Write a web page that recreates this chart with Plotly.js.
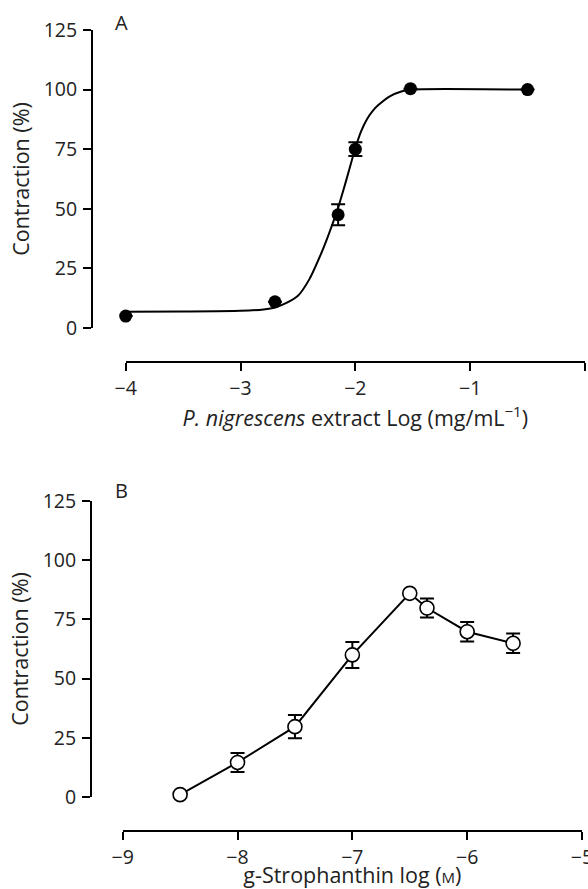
<!DOCTYPE html>
<html>
<head>
<meta charset="utf-8">
<script src="https://cdn.plot.ly/plotly-3.0.1.min.js"></script>
<style>
  html, body { margin: 0; padding: 0; background: #fff; }
  #chart { width: 588px; height: 889px; }
</style>
</head>
<body>
<div id="chart"></div>
<script>
// ---- Panel A: P. nigrescens extract ----
const aLogConc = [-4, -2.7, -2.15, -2.0, -1.52, -0.5];
const aContraction = [5, 11, 47.5, 75, 100.4, 100];
const aError = [0, 0, 4.4, 2.9, 0, 0];
// fitted curve
const aCurveX = [-4, -3.5, -3, -2.8, -2.7, -2.6, -2.5, -2.4, -2.3, -2.25, -2.2, -2.15, -2.1, -2.05, -2.0, -1.95, -1.9, -1.85, -1.8, -1.7, -1.6, -1.52, -0.5];
const aCurveY = [6.8, 6.9, 7.2, 7.8, 8.6, 10.5, 13.5, 20.5, 31, 37, 43.5, 50.5, 58.5, 67, 75.5, 82.5, 87.5, 91, 93.5, 97.2, 99.2, 100, 100];

// ---- Panel B: g-Strophanthin ----
const bLogConc = [-8.5, -8, -7.5, -7, -6.5, -6.35, -6, -5.6];
const bContraction = [1, 14.6, 29.7, 60, 86, 79.8, 69.8, 64.9];
const bError = [0, 4, 4.9, 5.5, 0, 4, 4.1, 4.1];

const yTicks = [0, 25, 50, 75, 100, 125];
const aXTicks = [-4, -3, -2, -1];
const aXEndTick = [0];
const bXTicks = [-9, -8, -7, -6, -5];

const W = 588, H = 889;
const px = v => v / W;
const py = v => 1 - v / H;

const FONT = "Open Sans, Noto Sans, sans-serif";
const tickFont = {family: FONT, size: 19.5, color: '#222'};
const titleFont = {family: FONT, size: 21.5, color: '#222'};

const traces = [
  {x: aCurveX, y: aCurveY, mode: 'lines', line: {color: '#000', width: 2, shape: 'spline', smoothing: 0.7},
   xaxis: 'x', yaxis: 'y', hoverinfo: 'skip', cliponaxis: false},
  {x: aLogConc, y: aContraction, mode: 'markers',
   marker: {color: '#000', size: 13, line: {width: 0}},
   error_y: {type: 'data', array: aError, visible: true, color: '#000', thickness: 2, width: 7},
   xaxis: 'x', yaxis: 'y', cliponaxis: false},
  {x: bLogConc, y: bContraction, mode: 'lines+markers',
   line: {color: '#000', width: 2},
   marker: {color: '#fff', size: 14, line: {color: '#000', width: 1.6}},
   error_y: {type: 'data', array: bError, visible: true, color: '#000', thickness: 2, width: 7},
   xaxis: 'x2', yaxis: 'y2', cliponaxis: false}
];

function yAxis(top, bottom, xpos) {
  return {
    domain: [py(bottom), py(top)], range: [0, 125], anchor: 'free', position: px(xpos),
    tickvals: yTicks, ticks: 'outside', ticklen: 8, tickwidth: 2, tickcolor: '#000',
    showline: true, linewidth: 2, linecolor: '#000', showgrid: false, zeroline: false,
    tickfont: tickFont, ticklabelstandoff: 2,
    title: {text: 'Contraction (%)', font: titleFont, standoff: 7}
  };
}
function xAxis(left, right, ypos, range, ticks, titleText, standoff) {
  return {
    domain: [px(left), px(right)], range: range, anchor: 'free', position: py(ypos),
    tickvals: ticks, ticks: 'outside', ticklen: 8, tickwidth: 2, tickcolor: '#000',
    showline: true, linewidth: 2, linecolor: '#000', showgrid: false, zeroline: false,
    tickfont: tickFont, ticklabelstandoff: 1, ticklabeloverflow: 'allow',
    title: {text: titleText, font: titleFont, standoff: standoff}
  };
}

const xa = xAxis(125.7, 585, 361.5, [-4, 0], aXTicks, '<i>P. nigrescens</i> extract Log (mg/mL<sup>\u22121</sup>)', 2);
xa.minor = {tickvals: aXEndTick, ticks: 'outside', ticklen: 8, tickwidth: 2, tickcolor: '#000', showgrid: false};

const layout = {
  width: W, height: H,
  margin: {l: 0, r: 0, t: 0, b: 0},
  paper_bgcolor: '#fff', plot_bgcolor: '#fff',
  showlegend: false,
  xaxis: xa,
  yaxis: yAxis(30, 328, 92),
  xaxis2: xAxis(122.7, 582, 830.5, [-9, -5], bXTicks, 'g-Strophanthin log (<span style="font-size:15px">M</span>)', 2),
  yaxis2: yAxis(501, 797, 91),
  annotations: [
    {text: 'A', xref: 'paper', yref: 'paper', x: px(121.5), y: py(22), xanchor: 'center', yanchor: 'middle',
     showarrow: false, font: {family: FONT, size: 20, color: '#222'}},
    {text: 'B', xref: 'paper', yref: 'paper', x: px(121), y: py(490), xanchor: 'center', yanchor: 'middle',
     showarrow: false, font: {family: FONT, size: 20, color: '#222'}}
  ]
};

Plotly.newPlot('chart', traces, layout, {staticPlot: true, displayModeBar: false});
</script>
</body>
</html>
